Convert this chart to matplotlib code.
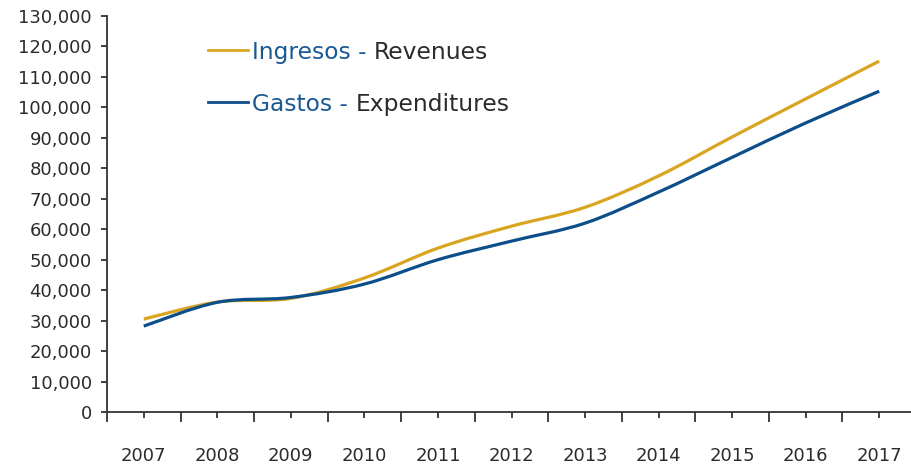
import matplotlib
matplotlib.use("Agg")
import numpy as np
import matplotlib.pyplot as plt
from matplotlib.path import Path
from matplotlib.patches import PathPatch
from matplotlib.lines import Line2D
from matplotlib.ticker import FuncFormatter, MultipleLocator

# ============================================================
# Data
# ============================================================
years = [2007, 2008, 2009, 2010, 2011, 2012, 2013, 2014, 2015, 2016, 2017]
ingresos = [30500, 36100, 37300, 44000, 53800, 61000, 67200, 77500, 90300, 102800, 115200]
gastos = [28200, 36000, 37600, 42000, 50000, 56100, 62000, 72200, 83600, 94900, 105300]

labels_es = ["Ingresos", "Gastos"]
labels_en = ["Revenues", "Expenditures"]

GOLD = "#D9A521"
BLUE = "#0B4E8A"
TXT_BLUE = "#1A5994"
TXT = "#2b2b2b"
AXC = "#333333"

W, H = 911, 468


def smooth_path(x, y):
    # Excel-style smoothed line: cubic Bezier segments through the points
    x = np.asarray(x, float)
    y = np.asarray(y, float)
    n = len(x)
    verts = [(x[0], y[0])]
    codes = [Path.MOVETO]
    for i in range(n - 1):
        i0 = max(i - 1, 0)
        i3 = min(i + 2, n - 1)
        c1 = (x[i] + (x[i + 1] - x[i0]) / 6, y[i] + (y[i + 1] - y[i0]) / 6)
        c2 = (x[i + 1] - (x[i3] - x[i]) / 6, y[i + 1] - (y[i3] - y[i]) / 6)
        verts += [c1, c2, (x[i + 1], y[i + 1])]
        codes += [Path.CURVE4] * 3
    return Path(verts, codes)


fig = plt.figure(figsize=(W / 100, H / 100), dpi=100)
ax = fig.add_axes([107 / W, 1 - 412 / H, (916 - 107) / W, (412 - 16) / H])

for vals, col in [(ingresos, GOLD), (gastos, BLUE)]:
    ax.add_patch(PathPatch(smooth_path(years, vals), facecolor="none",
                           edgecolor=col, linewidth=2.3, capstyle="butt"))

ax.set_xlim(2006.5, 2017.5)
ax.set_ylim(0, 130000)

for s in ["top", "right"]:
    ax.spines[s].set_visible(False)
for s in ["left", "bottom"]:
    ax.spines[s].set_color(AXC)
    ax.spines[s].set_linewidth(1.3)

ax.yaxis.set_major_locator(MultipleLocator(10000))
ax.yaxis.set_major_formatter(FuncFormatter(lambda v, p: f"{v:,.0f}"))
ax.tick_params(axis="y", direction="out", length=4, width=1.3, color=AXC,
               labelsize=13, labelcolor=TXT, pad=7)

ax.set_xticks(years)
ax.set_xticklabels([str(y) for y in years])
ax.set_xticks(np.arange(2006.5, 2018, 1.0), minor=True)
ax.tick_params(axis="x", which="major", direction="out", length=4.5, width=1.3,
               color=AXC, labelsize=13, labelcolor=TXT, pad=21)
ax.tick_params(axis="x", which="minor", direction="out", length=7.5, width=1.3,
               color=AXC)

# custom legend with two-colour text
fig.canvas.draw()
renderer = fig.canvas.get_renderer()
for k, (col, es, en, yc) in enumerate(zip([GOLD, BLUE], labels_es, labels_en, [50, 102])):
    fig.add_artist(Line2D([208 / W, 248 / W], [1 - yc / H, 1 - yc / H],
                          color=col, linewidth=2.0))
    t1 = fig.text(252 / W, 1 - yc / H, es + " - ", color=TXT_BLUE, fontsize=16.8,
                  va="center_baseline", ha="left")
    bb = t1.get_window_extent(renderer)
    fig.text(bb.x1 / W, 1 - yc / H, en, color=TXT, fontsize=16.8,
             va="center_baseline", ha="left")

fig.savefig("out.png", dpi=100)
